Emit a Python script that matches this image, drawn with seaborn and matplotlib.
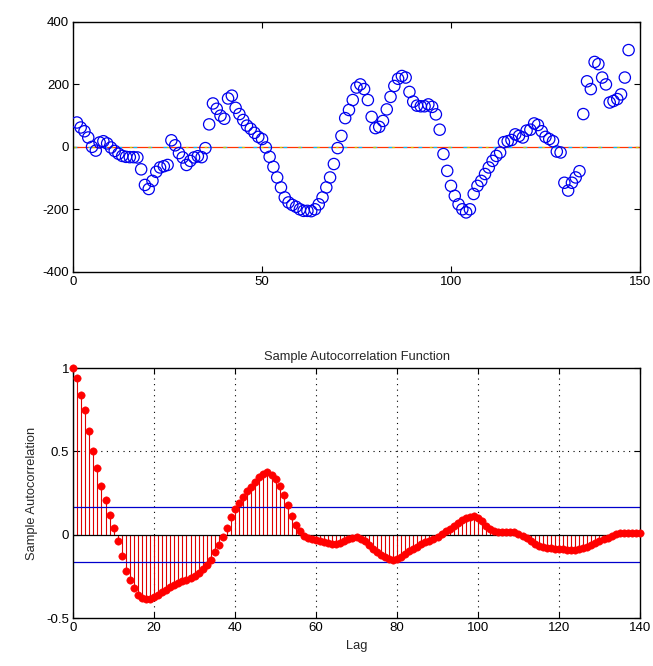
import numpy as np
import pandas as pd
import matplotlib
matplotlib.use("Agg")
import matplotlib.pyplot as plt
import seaborn as sns

# ---- data: top series (index 1..147) ----
series_values = [
    78, 62, 50, 30, 0, -12, 14, 18, 11, -2,
    -13, -22, -29, -32, -33, -33, -34, -72, -122, -135,
    -109, -80, -66, -62, -58, 21, 5, -20, -34, -58,
    -45, -34, -30, -33, -4, 72, 139, 122, 100, 90,
    155, 164, 125, 105, 86, 68, 58, 45, 32, 25,
    -2, -32, -64, -98, -130, -162, -178, -186, -192, -200,
    -205, -205, -206, -200, -184, -162, -130, -98, -55, -4,
    35, 92, 118, 150, 190, 200, 185, 150, 96, 60,
    64, 83, 120, 160, 195, 218, 227, 222, 176, 145,
    132, 130, 130, 136, 128, 104, 55, -23, -77, -125,
    -157, -184, -200, -210, -200, -151, -125, -109, -87, -66,
    -45, -29, -18, 15, 18, 22, 40, 35, 30, 52,
    55, 75, 70, 50, 32, 25, 18, -15, -18, -115,
    -140, -115, -98, -78, 105, 210, 185, 272, 265, 222,
    200, 142, 147, 153, 168, 222, 310,
]
series_index = list(range(1, len(series_values) + 1))

# ---- data: sample autocorrelation (lags 0..140) ----
acf_values = [
    1.0, 0.94, 0.84, 0.75, 0.62, 0.50, 0.40, 0.29, 0.21, 0.12,
    0.04, -0.04, -0.13, -0.22, -0.27, -0.32, -0.36, -0.38, -0.386, -0.386,
    -0.376, -0.36, -0.345, -0.33, -0.315, -0.30, -0.29, -0.28, -0.27, -0.26,
    -0.245, -0.228, -0.206, -0.18, -0.152, -0.106, -0.06, -0.016, 0.04, 0.104,
    0.154, 0.188, 0.224, 0.26, 0.288, 0.318, 0.345, 0.364, 0.374, 0.36,
    0.334, 0.294, 0.24, 0.18, 0.114, 0.06, 0.02, -0.006, -0.02, -0.028,
    -0.032, -0.036, -0.044, -0.052, -0.058, -0.055, -0.048, -0.036, -0.024, -0.018,
    -0.016, -0.024, -0.036, -0.06, -0.085, -0.105, -0.122, -0.136, -0.148, -0.152,
    -0.146, -0.132, -0.116, -0.1, -0.086, -0.074, -0.058, -0.046, -0.036, -0.024,
    -0.014, 0.004, 0.022, 0.036, 0.052, 0.07, 0.086, 0.1, 0.108, 0.11,
    0.1, 0.08, 0.055, 0.035, 0.024, 0.018, 0.014, 0.014, 0.016, 0.014,
    0.006, -0.005, -0.018, -0.035, -0.055, -0.068, -0.076, -0.08, -0.082, -0.084,
    -0.086, -0.088, -0.09, -0.092, -0.09, -0.086, -0.08, -0.074, -0.062, -0.048,
    -0.036, -0.026, -0.018, -0.008, 0.002, 0.008, 0.01, 0.012, 0.012, 0.012,
    0.01,
]
lags = list(range(len(acf_values)))
conf_bound = 0.164

top_xticks = [0, 50, 100, 150]
top_yticks = [-400, -200, 0, 200, 400]
acf_xticks = [0, 20, 40, 60, 80, 100, 120, 140]
acf_yticks = [-0.5, 0, 0.5, 1]
acf_yticklabels = ["-0.5", "0", "0.5", "1"]

title_text = "Sample Autocorrelation Function"
xlabel_text = "Lag"
ylabel_text = "Sample Autocorrelation"

sns.set_theme(style="white")
plt.rcParams["font.family"] = ["Liberation Sans", "DejaVu Sans"]
plt.rcParams["font.size"] = 9
plt.rcParams["axes.unicode_minus"] = False

fig = plt.figure(figsize=(6.53, 6.66), dpi=100)
ax1 = fig.add_axes([0.112, 0.592, 0.868, 0.375])
ax2 = fig.add_axes([0.112, 0.072, 0.868, 0.3754])

def style_axes(ax):
    for sp in ax.spines.values():
        sp.set_color("black")
        sp.set_linewidth(1.0)
        sp.set_visible(True)
    ax.tick_params(direction="in", length=4, width=0.8, colors="black",
                   top=True, right=True, bottom=True, left=True,
                   labelsize=9.5, pad=3)

# ---- top panel ----
df_top = pd.DataFrame({"x": series_index, "y": series_values})
ax1.axhline(0, color="#ff3300", lw=0.9, zorder=1)
ax1.axhline(0, color="#00bfff", lw=0.9, dashes=(3, 9), zorder=1)
ax1.axhline(0, color="#c8c800", lw=0.9, dashes=(2, 13), zorder=1)
sns.scatterplot(data=df_top, x="x", y="y", ax=ax1, marker="o",
                s=66, facecolors="none", edgecolor="#0000ee", linewidth=0.9,
                legend=False, zorder=3)
ax1.set_xlim(0, 150)
ax1.set_ylim(-400, 400)
ax1.set_xticks(top_xticks)
ax1.set_yticks(top_yticks)
ax1.set_xlabel("")
ax1.set_ylabel("")
style_axes(ax1)

# ---- bottom panel ----
df_acf = pd.DataFrame({"lag": lags, "acf": acf_values})
for gx in acf_xticks[1:-1]:
    ax2.axvline(gx, color="black", lw=0.8, ls=(0, (1, 4)), zorder=0)
ax2.axhline(0.5, color="black", lw=0.8, ls=(0, (1, 4)), zorder=0)
ax2.vlines(df_acf["lag"], 0, df_acf["acf"], color="#e00000", lw=0.8, zorder=2)
ax2.axhline(0, color="black", lw=0.9, zorder=2)
ax2.axhline(conf_bound, color="#0000cc", lw=0.9, zorder=2)
ax2.axhline(-conf_bound, color="#0000cc", lw=0.9, zorder=2)
sns.scatterplot(data=df_acf, x="lag", y="acf", ax=ax2, color="red",
                s=28, edgecolor="red", linewidth=0.4, legend=False, zorder=4,
                clip_on=False)
ax2.set_xlim(0, 140)
ax2.set_ylim(-0.5, 1)
ax2.set_xticks(acf_xticks)
ax2.set_yticks(acf_yticks)
ax2.set_yticklabels(acf_yticklabels)
ax2.set_title(title_text, fontsize=9.3, pad=6)
ax2.set_xlabel(xlabel_text, fontsize=9.3, labelpad=4)
ax2.set_ylabel(ylabel_text, fontsize=9.3, labelpad=6)
style_axes(ax2)

fig.savefig("out.png", dpi=100, facecolor="white")
